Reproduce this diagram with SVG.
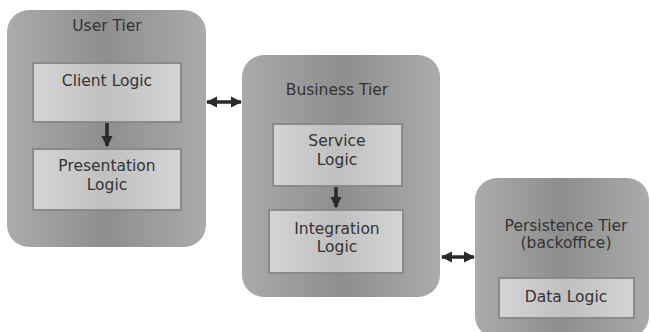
<svg xmlns="http://www.w3.org/2000/svg" width="651" height="332" viewBox="0 0 651 332">
  <defs>
    <linearGradient id="tierFill" x1="0" y1="0" x2="1" y2="0">
      <stop offset="0" stop-color="#ababab"/>
      <stop offset="0.5" stop-color="#8e8e8e"/>
      <stop offset="1" stop-color="#ababab"/>
    </linearGradient>
    <linearGradient id="boxFill" x1="0" y1="0" x2="1" y2="0">
      <stop offset="0" stop-color="#d4d4d4"/>
      <stop offset="0.5" stop-color="#c0c0c0"/>
      <stop offset="1" stop-color="#d4d4d4"/>
    </linearGradient>
    <marker id="head" viewBox="0 0 10 10" refX="9" refY="5" markerWidth="3.2" markerHeight="3.2" orient="auto-start-reverse">
      <path d="M0,0 L10,5 L0,10 z" fill="#2a2a2a"/>
    </marker>
  </defs>
  <style>
    .tier { fill: url(#tierFill); }
    .box { fill: url(#boxFill); stroke: #8a8a8a; stroke-width: 2; }
    .title, .label { font-family: "DejaVu Sans", Verdana, sans-serif; font-size: 15.5px; fill: #333333; text-anchor: middle; }
    .link { stroke: #2a2a2a; stroke-width: 3.5; fill: none; }
  </style>

  <rect width="651" height="332" fill="#ffffff"/>

  <g id="user-tier">
    <rect class="tier" x="7" y="10" width="199" height="237" rx="22"/>
    <text class="title" x="107" y="31">User Tier</text>
  </g>
  <g id="client-logic">
    <rect class="box" x="33" y="63" width="148" height="59"/>
    <text class="label" x="107" y="86">Client Logic</text>
  </g>
  <g id="presentation-logic">
    <rect class="box" x="33" y="149" width="148" height="61"/>
    <text class="label" x="107" y="171">Presentation</text>
    <text class="label" x="107" y="190">Logic</text>
  </g>

  <g id="business-tier">
    <rect class="tier" x="242" y="55" width="198" height="242" rx="22"/>
    <text class="title" x="337" y="95">Business Tier</text>
  </g>
  <g id="service-logic">
    <rect class="box" x="273" y="124" width="129" height="62"/>
    <text class="label" x="337" y="146">Service</text>
    <text class="label" x="337" y="165">Logic</text>
  </g>
  <g id="integration-logic">
    <rect class="box" x="269" y="210" width="134" height="63"/>
    <text class="label" x="337" y="234">Integration</text>
    <text class="label" x="337" y="252">Logic</text>
  </g>

  <g id="persistence-tier">
    <rect class="tier" x="475" y="178" width="174" height="160" rx="22"/>
    <text class="title" x="566" y="231">Persistence Tier</text>
    <text class="title" x="566" y="248">(backoffice)</text>
  </g>
  <g id="data-logic">
    <rect class="box" x="499" y="278" width="135" height="40"/>
    <text class="label" x="566" y="302">Data Logic</text>
  </g>

  <g id="connectors">
    <line class="link" x1="107" y1="123" x2="107" y2="146" marker-end="url(#head)"/>
    <line class="link" x1="336" y1="187" x2="336" y2="207" marker-end="url(#head)"/>
    <line class="link" x1="207" y1="102" x2="241" y2="102" marker-start="url(#head)" marker-end="url(#head)"/>
    <line class="link" x1="442" y1="257" x2="474" y2="257" marker-start="url(#head)" marker-end="url(#head)"/>
  </g>
</svg>
